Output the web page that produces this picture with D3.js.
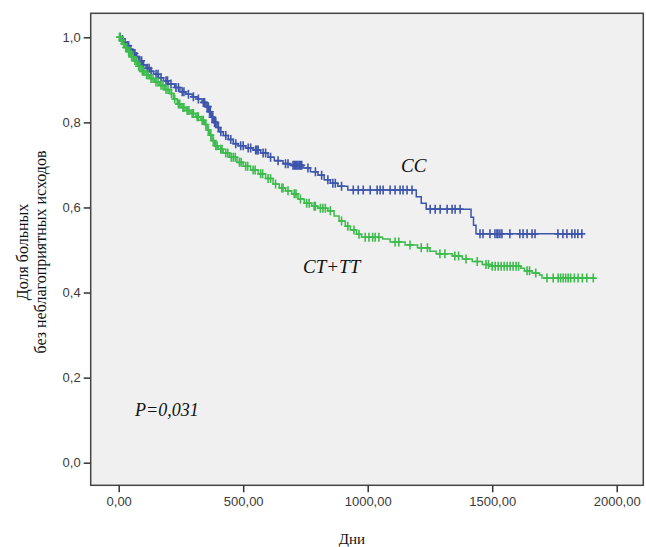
<!DOCTYPE html>
<html>
<head>
<meta charset="utf-8">
<script src="https://cdn.jsdelivr.net/npm/d3@7"></script>
<style>
  body { margin: 0; background: #fff; }
  svg { display: block; }
</style>
</head>
<body>
<svg id="chart" width="646" height="547"></svg>
<script>
(function(){

	// Kaplan-Meier data
	// CC: event times and survival after each step
	var ccTime = [0, 10, 20, 30, 42, 55, 66, 80, 95, 110, 125, 140, 160, 180, 200, 225, 246, 270, 295, 315, 335, 350, 362, 372, 382, 395, 407, 420, 440, 460, 480, 510, 540, 570, 600, 625, 660, 690, 740, 770, 800, 825, 850, 880, 920, 1195, 1215, 1235, 1415, 1425, 1435];
	var ccSurv = [1.0, 0.995, 0.988, 0.980, 0.972, 0.962, 0.955, 0.945, 0.935, 0.927, 0.920, 0.913, 0.905, 0.898, 0.890, 0.882, 0.872, 0.866, 0.860, 0.855, 0.847, 0.837, 0.825, 0.812, 0.800, 0.788, 0.778, 0.769, 0.760, 0.750, 0.745, 0.740, 0.735, 0.728, 0.718, 0.710, 0.703, 0.699, 0.693, 0.684, 0.676, 0.665, 0.657, 0.650, 0.641, 0.625, 0.610, 0.596, 0.577, 0.558, 0.538];
	var ccCensor = [6, 15, 25, 35, 40, 48, 60, 65, 72, 85, 92, 100, 115, 122, 130, 150, 158, 170, 190, 196, 210, 230, 240, 255, 262, 280, 300, 320, 340, 345, 355, 360, 365, 368, 375, 378, 385, 390, 400, 410, 430, 450, 470, 490, 500, 520, 530, 550, 555, 560, 580, 590, 610, 640, 670, 680, 700, 705, 710, 715, 720, 725, 730, 735, 760, 790, 815, 840, 860, 870, 895, 942, 962, 982, 1010, 1038, 1050, 1062, 1090, 1110, 1130, 1142, 1158, 1178, 1251, 1271, 1291, 1319, 1339, 1351, 1371, 1451, 1463, 1491, 1511, 1519, 1523, 1531, 1539, 1571, 1611, 1624, 1640, 1660, 1672, 1764, 1784, 1800, 1820, 1832, 1844, 1860];

	// CT+TT
	var ctTime = [0, 8, 16, 25, 35, 48, 60, 75, 90, 105, 125, 145, 165, 185, 205, 220, 235, 250, 270, 290, 310, 330, 345, 355, 365, 375, 385, 400, 420, 445, 475, 500, 530, 560, 590, 620, 645, 670, 695, 720, 745, 775, 800, 840, 865, 885, 910, 930, 955, 975, 1060, 1090, 1150, 1200, 1250, 1275, 1340, 1380, 1420, 1460, 1500, 1615, 1630, 1660, 1690, 1700];
	var ctSurv = [1.0, 0.993, 0.985, 0.976, 0.966, 0.954, 0.945, 0.932, 0.920, 0.912, 0.903, 0.895, 0.887, 0.877, 0.868, 0.855, 0.843, 0.835, 0.828, 0.821, 0.813, 0.805, 0.795, 0.782, 0.770, 0.757, 0.745, 0.737, 0.728, 0.718, 0.706, 0.697, 0.688, 0.679, 0.668, 0.655, 0.646, 0.639, 0.632, 0.620, 0.610, 0.603, 0.598, 0.592, 0.580, 0.568, 0.556, 0.547, 0.537, 0.530, 0.526, 0.519, 0.512, 0.505, 0.497, 0.491, 0.486, 0.479, 0.473, 0.466, 0.462, 0.457, 0.451, 0.446, 0.441, 0.434];
	var ctCensor = [3, 5, 12, 20, 28, 32, 40, 45, 52, 58, 65, 70, 80, 85, 95, 100, 112, 118, 130, 138, 150, 158, 170, 178, 190, 198, 212, 225, 240, 245, 258, 262, 275, 282, 295, 300, 315, 320, 335, 340, 350, 360, 370, 380, 390, 395, 410, 415, 430, 438, 452, 460, 468, 485, 492, 510, 518, 540, 548, 570, 578, 600, 610, 630, 655, 660, 680, 705, 712, 730, 755, 765, 785, 790, 810, 820, 830, 850, 895, 920, 945, 965, 990, 1005, 1020, 1030, 1045, 1110, 1125, 1170, 1215, 1240, 1290, 1310, 1350, 1365, 1395, 1440, 1475, 1485, 1500, 1512, 1524, 1536, 1548, 1560, 1572, 1584, 1596, 1606, 1640, 1650, 1675, 1720, 1745, 1765, 1775, 1785, 1795, 1805, 1815, 1830, 1845, 1862, 1880, 1906];

	var xTicks = [0, 500, 1000, 1500, 2000];
	var yTicks = [0, 0.2, 0.4, 0.6, 0.8, 1.0];

	// colours
	var ccColor = "#3d55ab";
	var ctColor = "#3dbb4c";
	var frameFill = "#f0f0f0";
	var frameStroke = "#444";
	var labelColor = "#3a3a3a";

	// frame geometry
	var frame = {left: 90.7, top: 13.3, right: 643.3, bottom: 485.3};

	var svg = d3.select("#chart");

	var x = d3.scaleLinear().domain([0, 2000]).range([118.7, 616.7]);
	var y = d3.scaleLinear().domain([0, 1]).range([462.7, 37.3]);

	svg.append("rect")
		.attr("x", frame.left)
		.attr("y", frame.top)
		.attr("width", frame.right - frame.left)
		.attr("height", frame.bottom - frame.top)
		.attr("fill", frameFill)
		.attr("stroke", frameStroke)
		.attr("stroke-width", 1.5);

	//comma decimal formats
	var fmtX = function(d){ return d3.format(".2f")(d).replace(".", ","); };
	var fmtY = function(d){ return d3.format(".1f")(d).replace(".", ","); };

	var xAxis = svg.append("g")
		.attr("transform", "translate(0," + frame.bottom + ")")
		.call(d3.axisBottom(x).tickValues(xTicks).tickFormat(fmtX).tickSize(7).tickPadding(4));
	var yAxis = svg.append("g")
		.attr("transform", "translate(" + frame.left + ",0)")
		.call(d3.axisLeft(y).tickValues(yTicks).tickFormat(fmtY).tickSize(7).tickPadding(3));

	[xAxis, yAxis].forEach(function(g){
		g.select(".domain").remove();
		g.selectAll(".tick line").attr("stroke", "#333").attr("stroke-width", 1.5);
		g.selectAll(".tick text")
			.attr("fill", labelColor)
			.attr("font-family", "Liberation Sans, Arial, sans-serif")
			.attr("font-size", 13);
	});

	//step path through the event points
	function stepPoints(times, surv, endTime){
		var pts = [];
		for(var i = 0; i < times.length; i++){
			pts.push([times[i], surv[i]]);
		}
		pts.push([endTime, surv[surv.length - 1]]);
		return pts;
	}

	function survAt(times, surv, t){
		var idx = d3.bisectRight(times, t) - 1;
		return surv[Math.max(idx, 0)];
	}

	var line = d3.line()
		.x(function(d){ return x(d[0]); })
		.y(function(d){ return y(d[1]); })
		.curve(d3.curveStepAfter);

	var groups = [
		{name: "cc", time: ccTime, surv: ccSurv, censor: ccCensor, color: ccColor},
		{name: "ct", time: ctTime, surv: ctSurv, censor: ctCensor, color: ctColor}
	];

	groups.forEach(function(gr){
		var endTime = d3.max(gr.censor);
		var g = svg.append("g").attr("class", gr.name);
		g.append("path")
			.datum(stepPoints(gr.time, gr.surv, endTime))
			.attr("d", line)
			.attr("fill", "none")
			.attr("stroke", gr.color)
			.attr("stroke-width", 1.5);
		g.selectAll(".censor")
			.data(gr.censor)
			.enter()
			.append("path")
			.attr("class", "censor")
			.attr("d", function(t){
				var cx = x(t), cy = y(survAt(gr.time, gr.surv, t));
				return "M" + (cx - 3.5) + "," + cy + "H" + (cx + 3.5) +
					"M" + cx + "," + (cy - 4.5) + "V" + (cy + 4.5);
			})
			.attr("stroke", gr.color)
			.attr("stroke-width", 1.6)
			.attr("fill", "none");
	});

	// annotations
	var serif = "'Liberation Serif', 'Times New Roman', serif";
	svg.append("text").attr("x", 401).attr("y", 172).text("CC")
		.attr("font-family", serif).attr("font-style", "italic").attr("font-size", 19).attr("fill", "#111");
	svg.append("text").attr("x", 303).attr("y", 273).text("CT+TT")
		.attr("font-family", serif).attr("font-style", "italic").attr("font-size", 19).attr("fill", "#111");
	svg.append("text").attr("x", 135).attr("y", 416).text("P=0,031")
		.attr("font-family", serif).attr("font-style", "italic").attr("font-size", 18).attr("fill", "#111");

	// axis titles
	svg.append("text").attr("x", 352).attr("y", 544).attr("text-anchor", "middle").text("Дни")
		.attr("font-family", serif).attr("font-size", 15).attr("fill", "#111");
	var yTitle = svg.append("text")
		.attr("transform", "translate(0,252) rotate(-90)")
		.attr("text-anchor", "middle")
		.attr("font-family", serif).attr("font-size", 16).attr("fill", "#111");
	yTitle.append("tspan").attr("x", 0).attr("y", 28).text("Доля больных");
	yTitle.append("tspan").attr("x", 0).attr("y", 46).text("без неблагоприятных исходов");

})();
</script>
</body>
</html>
